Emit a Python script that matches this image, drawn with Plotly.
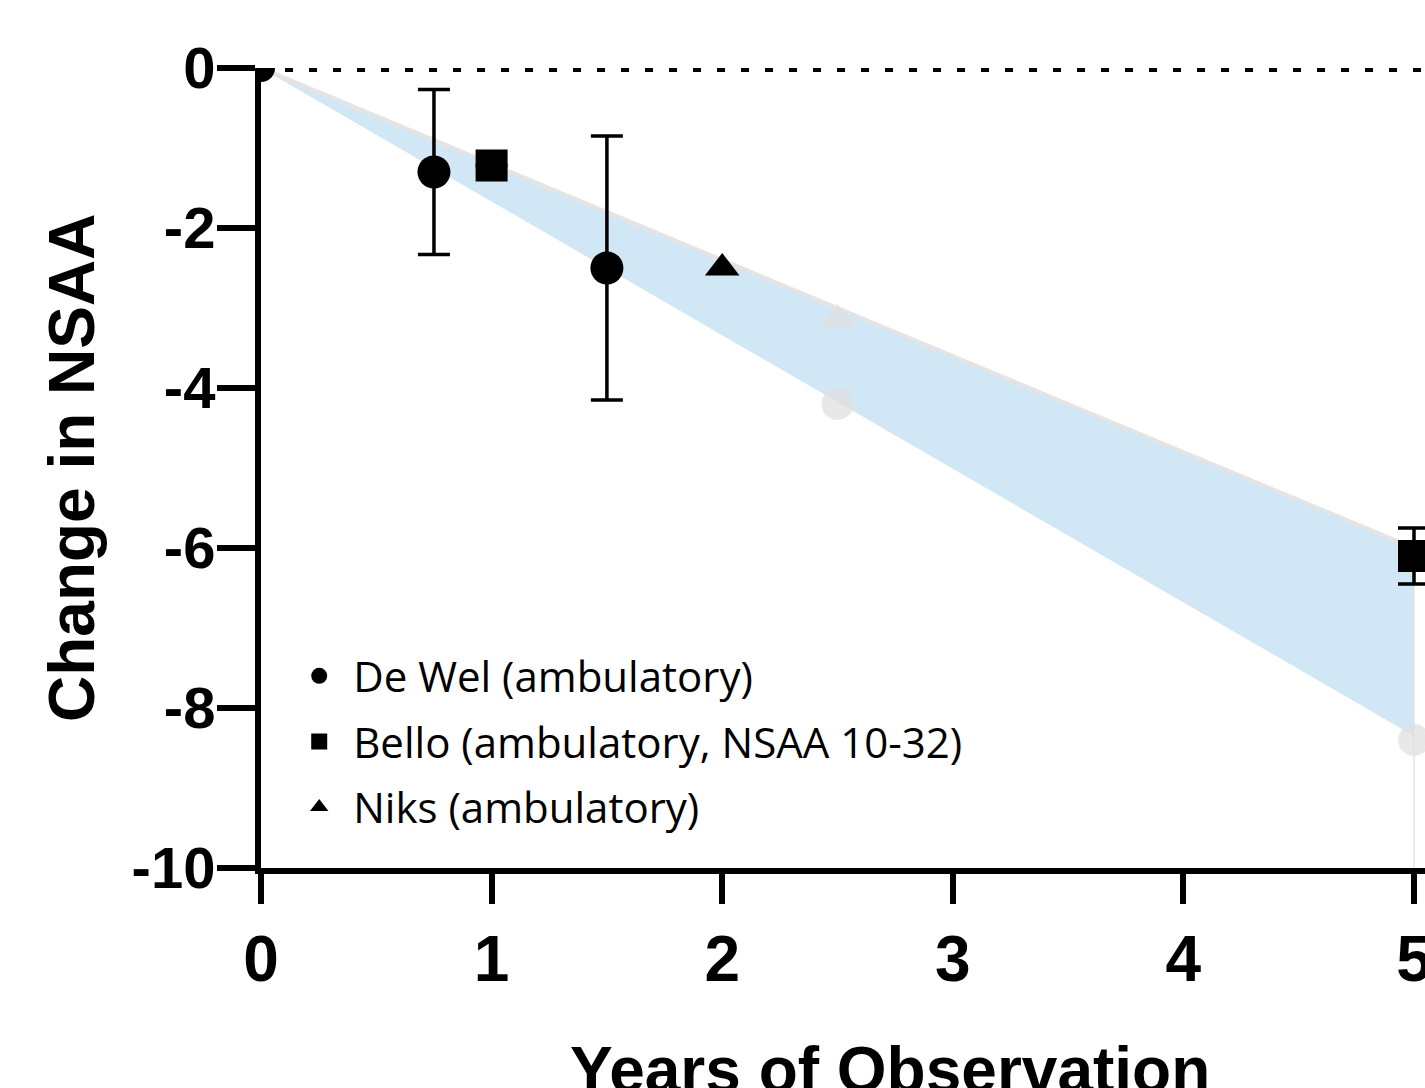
import plotly.graph_objects as go

# ---- data ----
dewel_x = [0.75, 1.5]
dewel_y = [-1.3, -2.5]
dewel_err = [1.03, 1.65]

bello_x = [1, 5]
bello_y = [-1.22, -6.1]
bello_err = [0, 0.35]

niks_x = [2]
niks_y = [-2.5]

origin_x = [0]
origin_y = [0]

band_x = [0, 5]
band_upper = [0, -6.0]
band_lower = [0, -8.35]

ghost_x = [2.5, 2.5, 5]
ghost_y = [-3.15, -4.2, -8.4]
ghost_symbols = ["triangle-up", "circle", "circle"]
ghost_err_plus = [0, 0, 2.3]
ghost_err_minus = [0, 0, 1.6]

ref_x = [0, 5.05]
ref_y = [0, 0]

x_ticks = [0, 1, 2, 3, 4, 5]
y_ticks = [0, -2, -4, -6, -8, -10]

fig = go.Figure()

# confidence band
fig.add_trace(go.Scatter(x=band_x, y=band_upper, mode="lines",
                         line=dict(color="rgb(228,228,228)", width=4),
                         showlegend=False, hoverinfo="skip"))
fig.add_trace(go.Scatter(x=band_x, y=band_lower, mode="lines",
                         line=dict(color="rgba(0,0,0,0)", width=0),
                         fill="tonexty", fillcolor="rgb(210,231,245)",
                         showlegend=False, hoverinfo="skip"))

# faded points
fig.add_trace(go.Scatter(x=ghost_x, y=ghost_y, mode="markers",
                         marker=dict(symbol=ghost_symbols, size=32,
                                     color="rgba(222,222,222,0.7)"),
                         error_y=dict(type="data", symmetric=False,
                                      array=ghost_err_plus, arrayminus=ghost_err_minus,
                                      color="rgba(225,225,225,0.8)", thickness=1.5, width=0),
                         showlegend=False, cliponaxis=False, hoverinfo="skip"))

# reference dotted line at 0
fig.add_trace(go.Scatter(x=ref_x, y=ref_y, mode="lines",
                         line=dict(color="black", width=8, dash="8px,16px"),
                         showlegend=False, cliponaxis=False, hoverinfo="skip"))

# origin point (clipped by axes)
fig.add_trace(go.Scatter(x=origin_x, y=origin_y, mode="markers",
                         marker=dict(symbol="circle", size=28, color="black"),
                         showlegend=False, cliponaxis=True, hoverinfo="skip"))

# studies
fig.add_trace(go.Scatter(x=dewel_x, y=dewel_y, mode="markers", name="De Wel (ambulatory)",
                         legendgroup="a",
                         marker=dict(symbol="circle", size=33, color="black"),
                         error_y=dict(type="data", array=dewel_err, color="black",
                                      thickness=3.5, width=16),
                         cliponaxis=False))
fig.add_trace(go.Scatter(x=bello_x, y=bello_y, mode="markers", name="Bello (ambulatory, NSAA 10-32)",
                         legendgroup="b",
                         marker=dict(symbol="square", size=32, color="black"),
                         error_y=dict(type="data", array=bello_err, color="black",
                                      thickness=3.5, width=16),
                         cliponaxis=False))
fig.add_trace(go.Scatter(x=niks_x, y=niks_y, mode="markers", name="Niks (ambulatory)",
                         legendgroup="c",
                         marker=dict(symbol="triangle-up", size=30, color="black"),
                         cliponaxis=False))

axis_font = dict(family="Liberation Sans, Arial, sans-serif", color="black", weight="bold")

fig.update_layout(
    width=1425, height=1088,
    margin=dict(l=261, r=0, t=68, b=220, autoexpand=False),
    paper_bgcolor="white", plot_bgcolor="white",
    showlegend=True,
    legend=dict(x=0.0208, y=0.2825, xanchor="left", yanchor="top",
                bgcolor="rgba(0,0,0,0)", tracegroupgap=8, itemwidth=58,
                font=dict(family="Open Sans, sans-serif", size=42, color="black")),
    xaxis=dict(range=[0, 1164 / 230.6], tickvals=x_ticks, ticktext=[str(v) for v in x_ticks],
               showline=True, linewidth=6, linecolor="black", automargin=False,
               ticks="outside", ticklen=30, tickwidth=6, tickcolor="black",
               tickfont=dict(size=64, **axis_font), ticklabeloverflow="allow",
               showgrid=False, zeroline=False),
    yaxis=dict(range=[-10, 0], tickvals=y_ticks, ticktext=[str(v) for v in y_ticks],
               showline=True, linewidth=6, linecolor="black", automargin=False,
               ticks="outside", ticklen=38, tickwidth=6, tickcolor="black",
               tickfont=dict(size=58, **axis_font), ticklabelstandoff=-10,
               showgrid=False, zeroline=False),
    annotations=[
        dict(text="Years of Observation", xref="paper", yref="paper",
             x=(890 - 261) / 1164, y=(868 - 1070) / 800, xanchor="center", yanchor="middle",
             showarrow=False, font=dict(size=64, **axis_font)),
        dict(text="Change in NSAA", xref="paper", yref="paper",
             x=(72 - 261) / 1164, y=0.5, xanchor="center", yanchor="middle",
             textangle=-90, showarrow=False, font=dict(size=64, **axis_font)),
    ],
)

fig.write_html("out.html")
